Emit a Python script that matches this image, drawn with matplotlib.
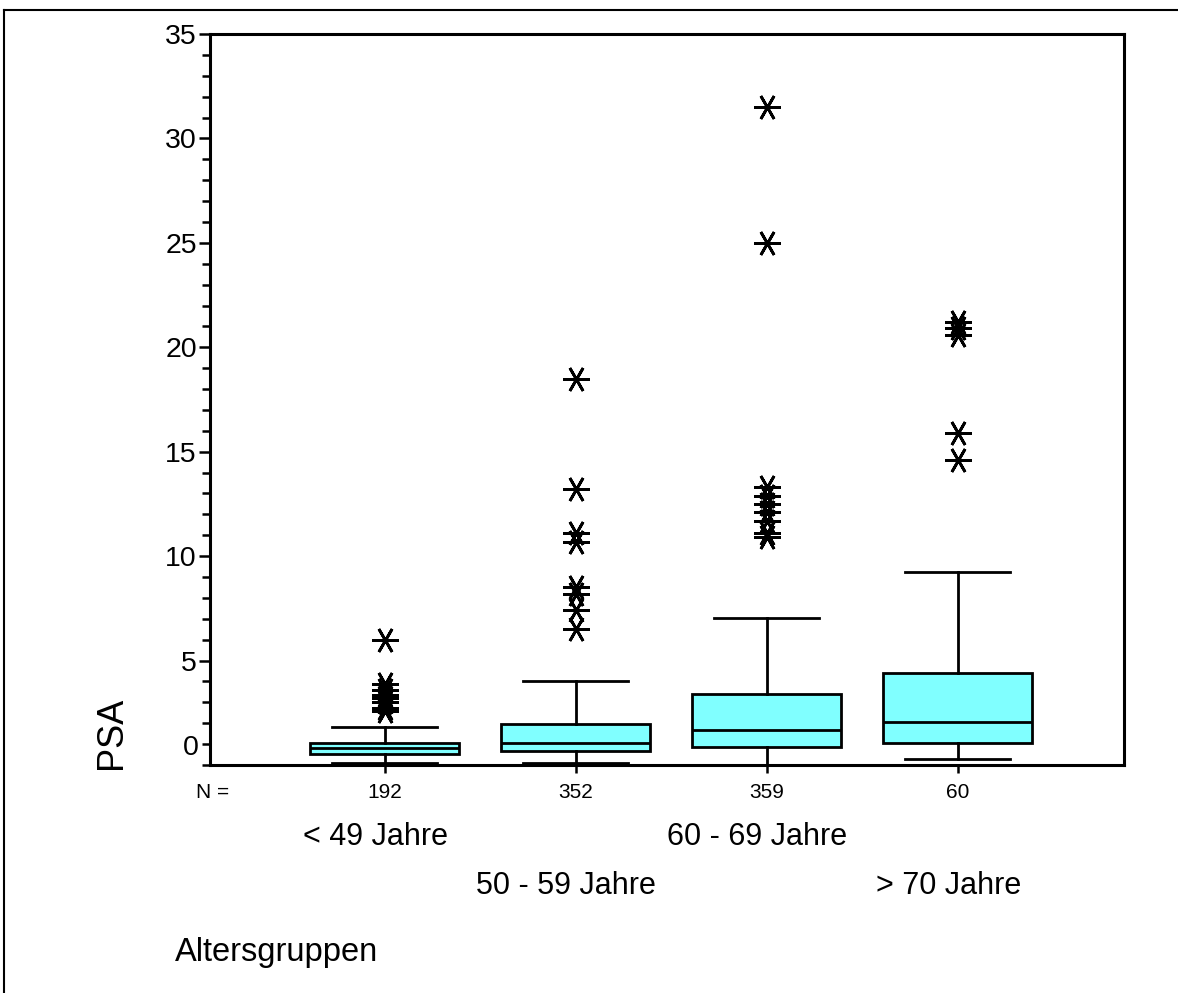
import matplotlib
matplotlib.use("Agg")
import matplotlib.pyplot as plt
from matplotlib.lines import Line2D

plt.rcParams['font.family'] = ['Liberation Sans', 'DejaVu Sans']

gruppen = ["< 49 Jahre", "50 - 59 Jahre", "60 - 69 Jahre", "> 70 Jahre"]
n_werte = [192, 352, 359, 60]

q1 = [0.53, 0.67, 0.88, 1.04]
median = [0.81, 1.07, 1.68, 2.08]
q3 = [1.07, 1.95, 3.39, 4.40]
whis_lo = [0.10, 0.11, 0.0, 0.27]
whis_hi = [1.84, 4.04, 7.03, 9.24]

ausreisser = [
    [6.0, 3.9, 3.6, 3.35, 3.2, 3.0, 2.75, 2.6],
    [18.5, 13.2, 11.1, 10.7, 8.5, 8.2, 7.4, 6.5],
    [31.5, 25.0, 13.3, 12.9, 12.5, 12.1, 11.7, 11.1, 10.9],
    [21.2, 20.9, 20.6, 15.9, 14.6],
]

stats = []
for i in range(len(gruppen)):
    stats.append({"med": median[i], "q1": q1[i], "q3": q3[i],
                  "whislo": whis_lo[i], "whishi": whis_hi[i],
                  "fliers": ausreisser[i]})

pos = [1, 2, 3, 4]

fig = plt.figure(figsize=(11.78, 9.93), dpi=100)
ax = fig.add_axes([210/1178, 1 - 765/993, (1124 - 210)/1178, (765 - 34)/993])

lw = 2.0
ax.bxp(stats, positions=pos, widths=0.78, capwidths=0.55, patch_artist=True,
       boxprops=dict(facecolor="#80ffff", edgecolor="black", linewidth=lw),
       medianprops=dict(color="black", linewidth=lw),
       whiskerprops=dict(color="black", linewidth=lw),
       capprops=dict(color="black", linewidth=lw),
       flierprops=dict(marker=(6, 2, 30), markersize=19, markeredgewidth=2,
                       markeredgecolor="black", linestyle="none"),
       manage_ticks=False)

ax.set_xlim(0.084, 4.87)
ax.set_ylim(0, 35)

for s in ax.spines.values():
    s.set_linewidth(2.2)

ax.set_yticks(range(5, 36, 5))
ax.set_yticks(range(0, 36), minor=True)
ax.tick_params(axis="y", which="major", direction="out", length=8, width=1.8,
               labelsize=20.5, pad=1.5)
ax.tick_params(axis="y", which="minor", direction="out", length=6, width=1.8)
ax.set_xticks(pos)
ax.set_xticklabels([])
ax.tick_params(axis="x", direction="out", length=6, width=1.8)

# "0" steht bei SPSS etwas über der Achse
ax.text(-0.0125, 0.8, "0", transform=ax.get_yaxis_transform(), ha="right",
        va="center", fontsize=20.5)

trans = ax.get_xaxis_transform()
ax.text(-0.015, -0.038, "N =", transform=ax.transAxes, ha="left", va="center",
        fontsize=15)
for i, p in enumerate(pos):
    ax.text(p, -0.038, str(n_werte[i]), transform=trans, ha="center",
            va="center", fontsize=15)
    y = -0.098 if i % 2 == 0 else -0.166
    ax.text(p - 0.05, y, gruppen[i], transform=trans, ha="center",
            va="center", fontsize=22)

fig.text(175/1178, 1 - 952/993, "Altersgruppen", ha="left", va="center",
         fontsize=23.5)
fig.text(112/1178, 1 - 733/993, "PSA", ha="center", va="center",
         rotation=90, fontsize=26)

fig.add_artist(Line2D([4/1178, 1], [1 - 10/993, 1 - 10/993],
                      transform=fig.transFigure, color="black", linewidth=1.5))
fig.add_artist(Line2D([4/1178, 4/1178], [0, 1 - 10/993],
                      transform=fig.transFigure, color="black", linewidth=1.5))

fig.savefig("out.png", dpi=100)
